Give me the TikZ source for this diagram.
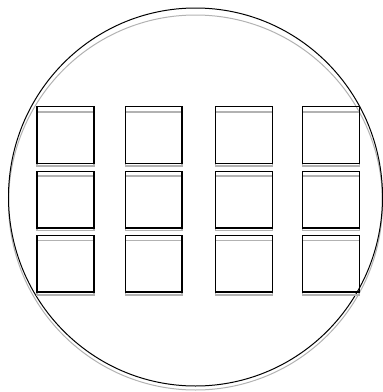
\documentclass[tikz,border=0pt]{standalone}
\begin{document}
\begin{tikzpicture}[x=1pt,y=-1pt,
  blk/.style={draw=black,line width=1.5pt},
  shade/.style={draw=black!30,line width=1.2pt},
  ring/.style={draw=black,line width=1pt},
  ringshade/.style={draw=black!30,line width=1pt}]
\useasboundingbox (0,0) rectangle (383,392);
\draw[ringshade] (195.5,202.5) ellipse [x radius=187, y radius=187.5];
\draw[ring] (195.5,197) ellipse [x radius=187, y radius=189];
\foreach \xa/\xb [count=\i] in {37/94,125.3/182,215.7/272.3,302.7/359.7}{
  \foreach \ya/\yb/\ga/\gb [count=\j] in {106.7/163.3/112/166,171.3/228/176/230.5,235.7/292/240.5/295}{
    \draw[shade] (\xa,\ga) rectangle (\xb,\gb);
    \draw[blk] (\xa,\ya) rectangle (\xb,\yb) coordinate (sq\i\j);
  }
}
\end{tikzpicture}
\end{document}
